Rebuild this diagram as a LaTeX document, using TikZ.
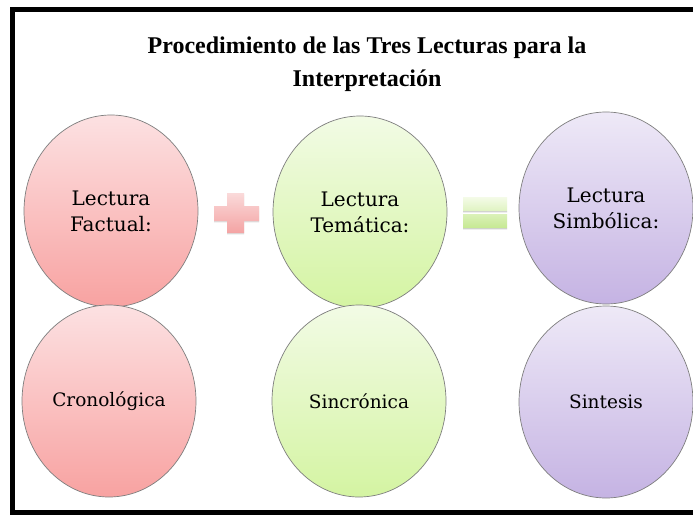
\documentclass[tikz,border=0pt]{standalone}
\usepackage{fontspec}
\setmainfont{DejaVu Serif}
\newfontfamily\timesfont{Liberation Serif}
\usetikzlibrary{shapes.geometric}
\definecolor{redtop}{HTML}{FCE1E2}
\definecolor{redbot}{HTML}{F8A2A1}
\definecolor{greentop}{HTML}{F2FBE5}
\definecolor{greenbot}{HTML}{D4F4A2}
\definecolor{purptop}{HTML}{EEE9F7}
\definecolor{purpbot}{HTML}{C5B3E3}
\definecolor{plustop}{HTML}{FADADA}
\definecolor{plusbot}{HTML}{F4A3A3}
\definecolor{eqtop}{HTML}{F4FBE8}
\definecolor{eqbot}{HTML}{C6E992}
\definecolor{rimgray}{HTML}{7E7E7E}
\definecolor{softshadow}{HTML}{BDBDBD}
\tikzset{
  bubble/.style={ellipse, draw=rimgray, line width=0.7pt, minimum width=174pt,
    minimum height=192pt, inner sep=0pt, align=center, text=black},
  redfill/.style={top color=redtop, bottom color=redbot},
  greenfill/.style={top color=greentop, bottom color=greenbot},
  purpfill/.style={top color=purptop, bottom color=purpbot},
  toptext/.style={font=\fontsize{20}{26}\selectfont},
  bottext/.style={font=\fontsize{18.5}{25}\selectfont},
  titletext/.style={font=\timesfont\fontsize{24}{33}\selectfont\bfseries, inner sep=0pt},
  frameline/.style={line width=5pt, draw=black}
}
\begin{document}
\begin{tikzpicture}[x=1pt,y=-1pt]
\useasboundingbox (0,0) rectangle (693,516);
\fill[white] (0,0) rectangle (693,516);
\begin{scope}
\clip (0,0) rectangle (693,516);
\draw[frameline] (12.5,10) rectangle (740,512.5);

\node[titletext, anchor=base] (title1) at (367,54) {Procedimiento de las Tres Lecturas para la};
\node[titletext, anchor=base] (title2) at (367,87) {Interpretación};

% top row
\node[bubble, redfill, toptext] (fact) at (111,211) {Lectura\\Factual:};
\node[bubble, greenfill, toptext] (tema) at (360,212) {Lectura\\Temática:};
\node[bubble, purpfill, toptext] (simb) at (606,208) {Lectura\\Simbólica:};

% bottom row
\node[bubble, redfill, bottext] (crono) at (109,401) {Cronológica};
\node[bubble, greenfill, bottext] (sincr) at (359,401) {Sincrónica};
\node[bubble, purpfill, bottext] (sintesis) at (606,402) {Sintesis};

% plus sign (soft shadow, then shaded sign)
\fill[softshadow, opacity=0.5]
  (214,207.3) -- (227,207.3) -- (227,194.3) -- (244,194.3) -- (244,207.3) -- (259,207.3)
  -- (259,222.3) -- (244,222.3) -- (244,234.3) -- (227,234.3) -- (227,222.3) -- (214,222.3) -- cycle;
\shade[top color=plustop, bottom color=plusbot]
  (214,206) -- (227,206) -- (227,193) -- (244,193) -- (244,206) -- (259,206)
  -- (259,221) -- (244,221) -- (244,233) -- (227,233) -- (227,221) -- (214,221) -- cycle;

% equals sign (thin shadow strips, then shaded bars)
\fill[softshadow, opacity=0.7]
  (463,211) rectangle (507,212.4) (463,228) rectangle (507,229.4);
\shade[top color=eqtop, bottom color=eqbot]
  (463,197) rectangle (507,211) (463,214) rectangle (507,228);
\end{scope}
\end{tikzpicture}
\end{document}
